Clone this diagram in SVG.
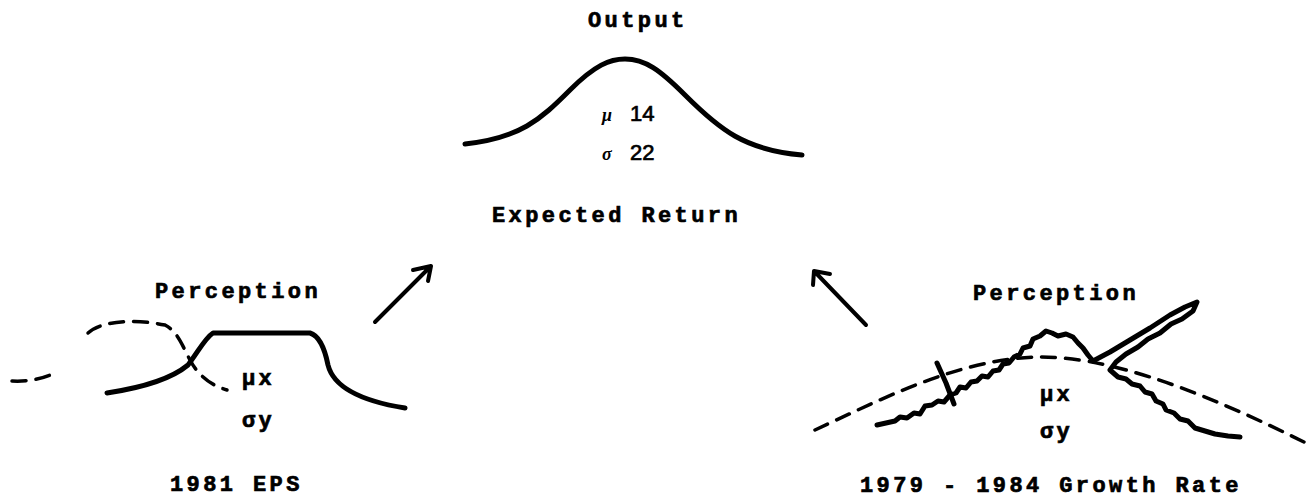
<svg xmlns="http://www.w3.org/2000/svg" width="1312" height="504" viewBox="0 0 1312 504">
<style>
.t{font-family:"Liberation Mono","DejaVu Sans Mono",monospace;font-weight:bold;font-size:22px;letter-spacing:3.4px;fill:#000;stroke:#000;stroke-width:0.7}
.g{font-family:"Liberation Serif","DejaVu Serif",serif;font-style:italic;font-weight:bold;font-size:18px;fill:#000}
.n{font-family:"Liberation Sans","DejaVu Sans",sans-serif;font-size:22px;fill:#000;stroke:#000;stroke-width:0.7}
.c{fill:none;stroke:#000;stroke-width:5;stroke-linecap:round;stroke-linejoin:round}
.w{fill:none;stroke:#000;stroke-width:5;stroke-linecap:round;stroke-linejoin:round}
.d{fill:none;stroke:#000;stroke-width:3.5;stroke-dasharray:14 10;stroke-linecap:round}
.a{fill:none;stroke:#000;stroke-width:4;stroke-linecap:round;stroke-linejoin:round}
</style>
<rect width="1312" height="504" fill="#fff"/>
<g id="output">
<text class="t" x="588" y="27">Output</text>
<path class="c" d="M465,144 C520,138 540,120 570,90 C595,65 610,59 625,59 C645,59 660,70 685,95 C720,130 745,150 802,155"/>
<text class="g" x="602" y="121">μ</text><text class="n" x="630" y="121">14</text>
<text class="g" x="602" y="160">σ</text><text class="n" x="630" y="160">22</text>
<text class="t" x="492" y="222">Expected Return</text>
</g>
<g id="eps">
<text class="t" x="155" y="298">Perception</text>
<path class="d" d="M12,381 C30,382 45,378 57,372"/>
<path class="d" d="M88,333 C100,322 130,318 165,325 C178,332 182,345 190,360 C198,375 210,385 227,390"/>
<path class="c" d="M107,393 C140,388 170,380 188,365 C198,352 205,338 213,333 L310,333 C320,336 325,350 328,365 C333,385 355,400 405,408"/>
<text class="t" x="242" y="385">μx</text>
<text class="t" x="242" y="427">σy</text>
<text class="t" x="170" y="491">1981 EPS</text>
</g>
<g id="growth">
<text class="t" x="973" y="300">Perception</text>
<path class="d" d="M815,430 C880,400 960,358 1040,357 C1100,357 1180,380 1310,445"/>
<path class="w" d="M877,425 L886,423 L895,421 L900,417 L907,418 L914,413 L920,414 L925,406 L932,405 L938,401 L944,402 L950,395 L956,393 L960,387 L966,388 L971,382 L977,381 L982,376 L988,377 L993,371 L999,370 L1003,364 L1009,363 L1014,357 L1020,354 L1023,348 L1030,346 L1033,339 L1040,336 L1046,331 L1052,333 L1058,336 L1066,334 L1073,337 L1078,343 L1083,348 L1088,355 L1093,361 L1110,352 L1130,340 L1150,328 L1170,315 L1185,307 L1197,302 L1193,311 L1182,319 L1171,324 L1160,333 L1148,339 L1138,347 L1126,354 L1116,362 L1110,370 L1118,377 L1126,379 L1132,384 L1140,386 L1145,392 L1152,394 L1156,401 L1163,404 L1166,410 L1174,413 L1180,419 L1188,421 L1195,428 L1205,431 L1215,434 L1228,436 L1240,437"/>
<path class="w" d="M937,363 L946,383 L954,404"/>
<text class="t" x="1040" y="401">μx</text>
<text class="t" x="1040" y="438">σy</text>
<text class="t" x="860" y="492">1979 - 1984 Growth Rate</text>
</g>
<g id="connectors">
<path class="a" d="M375,322 L431,266 M413,270 L431,266 L428,281"/>
<path class="a" d="M866,325 L814,271 M813,285 L814,271 L830,274"/>
</g>
</svg>
